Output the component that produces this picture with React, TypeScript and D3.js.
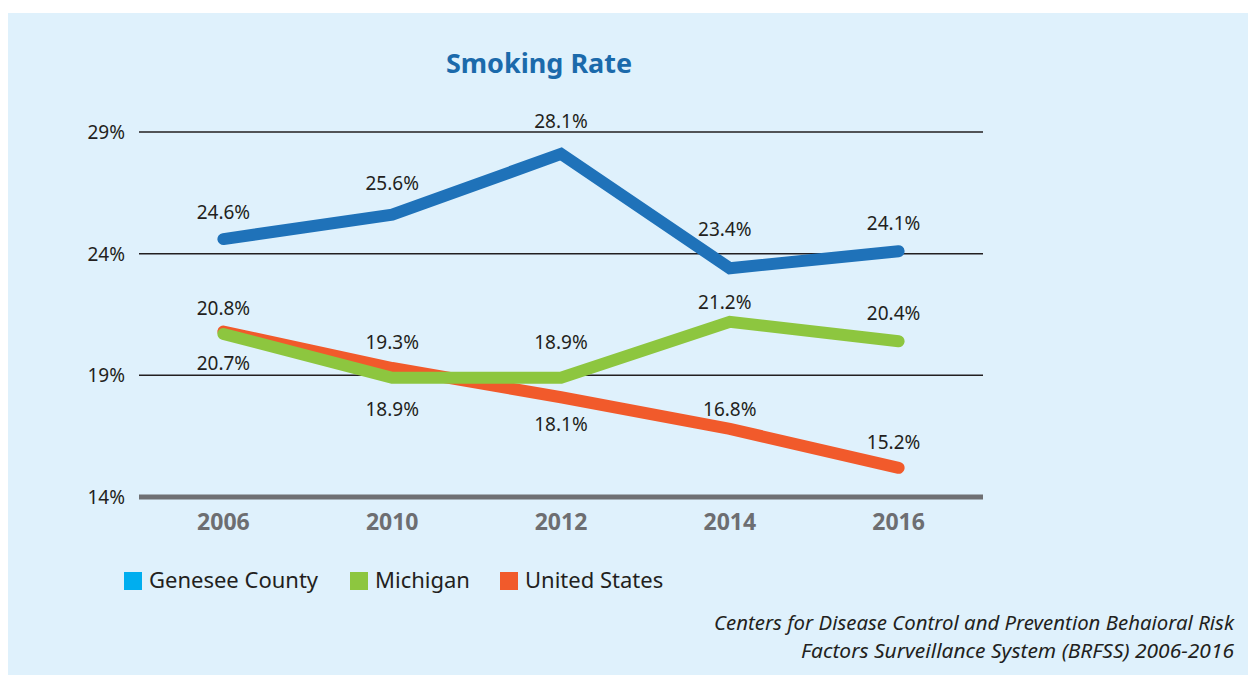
import * as d3 from "d3"

const YEARS = ["2006", "2010", "2012", "2014", "2016"]
const GENESEE = [24.6, 25.6, 28.1, 23.4, 24.1]
const MICHIGAN = [20.7, 18.9, 18.9, 21.2, 20.4]
const UNITED_STATES = [20.8, 19.3, 18.1, 16.8, 15.2]
const Y_TICKS = [14, 19, 24, 29]

// label nudges per point, [dx, dy] from the point to the text baseline
const GENESEE_LABEL = [[0, -20], [0, -25], [0, -26], [-5, -32], [-5, -21]]
const MICHIGAN_LABEL = [[0, 36], [0, 38], [0, -29], [-5, -13], [-5, -21]]
const US_LABEL = [[0, -17], [0, -19], [0, 34], [0, -13], [-5, -19]]

const W = 1248
const H = 675
const FONT = "'Noto Sans', 'Open Sans', sans-serif"

const series = [
  { name: "United States", values: UNITED_STATES, labels: US_LABEL, color: "#f15a2b" },
  { name: "Michigan", values: MICHIGAN, labels: MICHIGAN_LABEL, color: "#8dc63f" },
  { name: "Genesee County", values: GENESEE, labels: GENESEE_LABEL, color: "#1f72b9" },
]

const legend = [
  { name: "Genesee County", color: "#00aeef", x: 124 },
  { name: "Michigan", color: "#8dc63f", x: 350 },
  { name: "United States", color: "#f15a2b", x: 500 },
]

export default function App() {
  const x = d3.scalePoint<string>().domain(YEARS).range([139, 983]).padding(0.5)
  const y = d3.scaleLinear().domain([14, 29]).range([497, 132])

  const line = d3
    .line<number>()
    .x((_, i) => x(YEARS[i]) ?? 0)
    .y((d) => y(d))

  return (
    <div style={{ position: "fixed", left: 0, top: 0 }}>
      <svg width={W} height={H} style={{ display: "block", fontFamily: FONT }}>
        <rect x={0} y={0} width={W} height={H} fill="#ffffff" />
        <rect x={8} y={13} width={W - 8} height={H - 13} fill="#dff1fc" />

        <text x={539} y={73} textAnchor="middle" fontSize={27} fontWeight={700} fill="#1b6aab">
          Smoking Rate
        </text>

        {Y_TICKS.map((t) => (
          <g key={t}>
            {t === 14 ? (
              <line x1={139} x2={983} y1={y(t)} y2={y(t)} stroke="#6f7073" strokeWidth={5} />
            ) : (
              <line x1={139} x2={983} y1={y(t)} y2={y(t)} stroke="#231f20" strokeWidth={1.5} />
            )}
            <text x={125} y={y(t) + 7} textAnchor="end" fontSize={19} fill="#231f20">
              {t}%
            </text>
          </g>
        ))}

        {YEARS.map((yr) => (
          <text key={yr} x={x(yr)} y={530} textAnchor="middle" fontSize={23} fontWeight={700} fill="#6d6e71">
            {yr}
          </text>
        ))}

        {series.map((s) => (
          <path
            key={s.name}
            d={line(s.values) ?? ""}
            fill="none"
            stroke={s.color}
            strokeWidth={12}
            strokeLinecap="round"
            strokeLinejoin="miter"
          />
        ))}

        {series.map((s) =>
          s.values.map((v, i) => (
            <text
              key={s.name + i}
              x={(x(YEARS[i]) ?? 0) + s.labels[i][0]}
              y={y(v) + s.labels[i][1]}
              textAnchor="middle"
              fontSize={19}
              fill="#231f20"
            >
              {v.toFixed(1)}%
            </text>
          ))
        )}

        {legend.map((l) => (
          <g key={l.name}>
            <rect x={l.x} y={572} width={18} height={18} fill={l.color} />
            <text x={l.x + 25} y={588} fontSize={22} fill="#231f20">
              {l.name}
            </text>
          </g>
        ))}

        <text
          x={714}
          y={630}
          fontSize={20}
          fontStyle="italic"
          fill="#231f20"
          textLength={520}
          lengthAdjust="spacingAndGlyphs"
        >
          Centers for Disease Control and Prevention Behaioral Risk
        </text>
        <text
          x={801}
          y={658}
          fontSize={20}
          fontStyle="italic"
          fill="#231f20"
          textLength={433}
          lengthAdjust="spacingAndGlyphs"
        >
          Factors Surveillance System (BRFSS) 2006-2016
        </text>
      </svg>
    </div>
  )
}
